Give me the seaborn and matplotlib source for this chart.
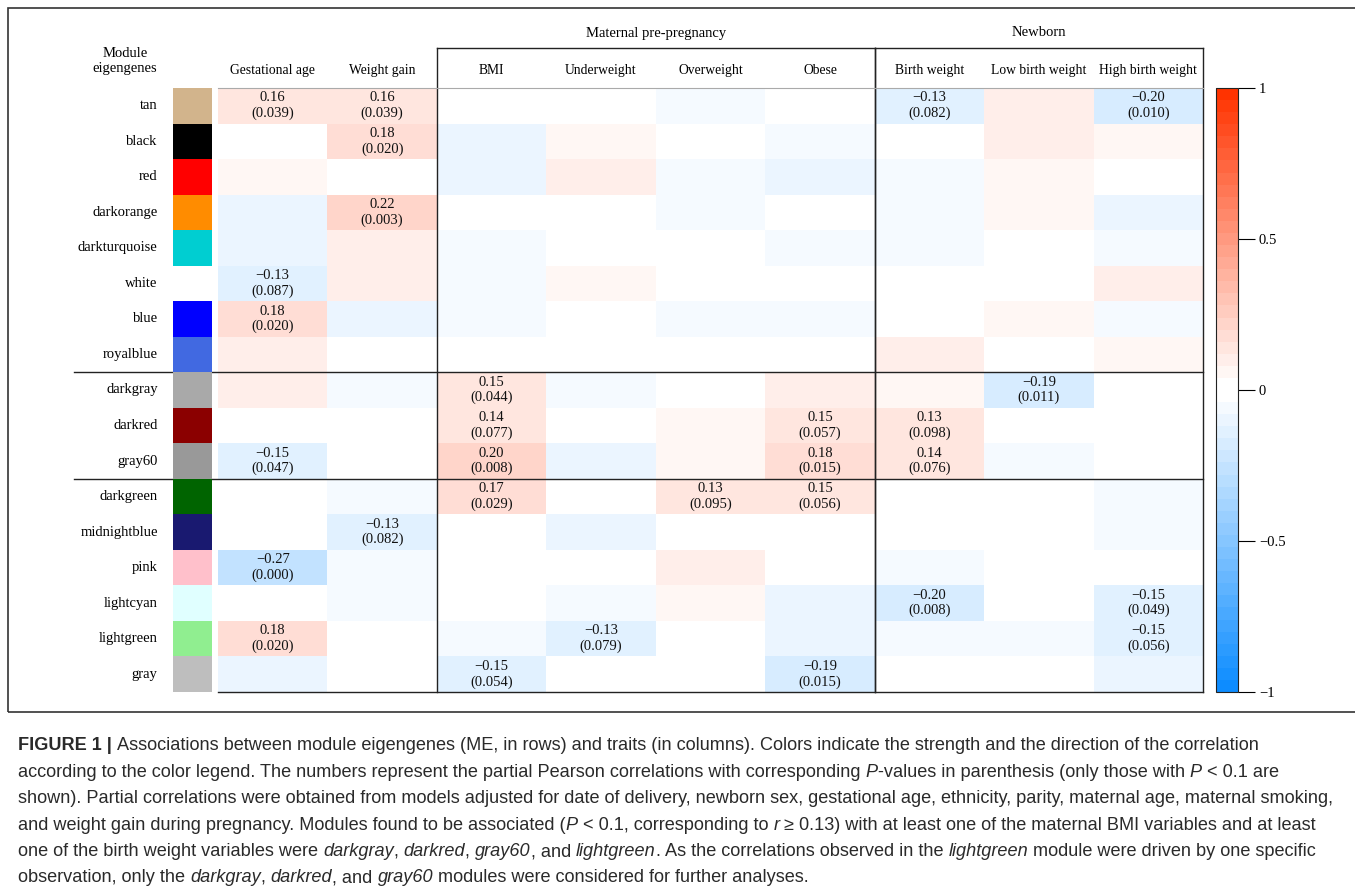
import numpy as np
import matplotlib
matplotlib.use("Agg")
import matplotlib.pyplot as plt
import matplotlib.transforms as mtransforms
from matplotlib.colors import ListedColormap
from matplotlib.patches import Rectangle
import seaborn as sns

# data
modules = ["tan", "black", "red", "darkorange", "darkturquoise", "white", "blue",
           "royalblue", "darkgray", "darkred", "gray60", "darkgreen", "midnightblue",
           "pink", "lightcyan", "lightgreen", "gray"]
module_colors = ["#D2B48C", "#000000", "#FF0000", "#FF8C00", "#00CED1", "#FFFFFF",
                 "#0000FF", "#4169E1", "#A9A9A9", "#8B0000", "#999999", "#006400",
                 "#191970", "#FFC0CB", "#E0FFFF", "#90EE90", "#BEBEBE"]
traits = ["Gestational age", "Weight gain", "BMI", "Underweight", "Overweight",
          "Obese", "Birth weight", "Low birth weight", "High birth weight"]
groups = ["Maternal pre-pregnancy", "Newborn"]
group_spans = [(2, 6), (6, 9)]
module_breaks = [8, 11]

r = np.array([
    [0.16, 0.16, 0.00, 0.00, -0.05, 0.00, -0.13, 0.10, -0.20],
    [0.00, 0.18, -0.09, 0.06, 0.00, -0.05, 0.00, 0.10, 0.06],
    [0.07, 0.00, -0.10, 0.09, -0.05, -0.10, -0.05, 0.06, 0.00],
    [-0.09, 0.22, 0.00, 0.00, -0.05, 0.00, -0.05, 0.06, -0.09],
    [-0.09, 0.08, -0.05, 0.00, 0.00, -0.05, -0.05, 0.00, -0.05],
    [-0.13, 0.08, -0.05, 0.06, 0.00, 0.00, 0.00, 0.00, 0.09],
    [0.18, -0.09, -0.05, 0.00, -0.05, -0.05, 0.00, 0.06, -0.05],
    [0.08, 0.00, 0.00, 0.00, 0.00, 0.00, 0.09, 0.00, 0.06],
    [0.08, -0.05, 0.15, -0.05, 0.00, 0.09, 0.05, -0.19, 0.00],
    [0.00, 0.00, 0.14, 0.00, 0.05, 0.15, 0.13, 0.00, 0.00],
    [-0.15, 0.00, 0.20, -0.09, 0.05, 0.18, 0.14, -0.05, 0.00],
    [0.00, -0.05, 0.17, 0.00, 0.13, 0.15, 0.00, 0.00, -0.05],
    [0.00, -0.13, 0.00, -0.09, 0.00, 0.00, 0.00, 0.00, -0.05],
    [-0.27, -0.05, 0.00, 0.00, 0.09, 0.00, -0.05, 0.00, 0.00],
    [0.00, -0.05, 0.00, -0.05, 0.05, -0.09, -0.20, 0.00, -0.15],
    [0.18, 0.00, -0.05, -0.13, 0.00, -0.09, -0.05, -0.05, -0.15],
    [-0.09, 0.00, -0.15, 0.00, 0.00, -0.19, 0.00, 0.00, -0.09],
])

n = np.nan
p = np.array([
    [0.039, 0.039, n, n, n, n, 0.082, n, 0.010],
    [n, 0.020, n, n, n, n, n, n, n],
    [n, n, n, n, n, n, n, n, n],
    [n, 0.003, n, n, n, n, n, n, n],
    [n, n, n, n, n, n, n, n, n],
    [0.087, n, n, n, n, n, n, n, n],
    [0.020, n, n, n, n, n, n, n, n],
    [n, n, n, n, n, n, n, n, n],
    [n, n, 0.044, n, n, n, n, 0.011, n],
    [n, n, 0.077, n, n, 0.057, 0.098, n, n],
    [0.047, n, 0.008, n, n, 0.015, 0.076, n, n],
    [n, n, 0.029, n, 0.095, 0.056, n, n, n],
    [n, 0.082, n, n, n, n, n, n, n],
    [0.000, n, n, n, n, n, n, n, n],
    [n, n, n, n, n, n, 0.008, n, 0.049],
    [0.020, n, n, 0.079, n, n, n, n, 0.056],
    [n, n, 0.054, n, n, 0.015, n, n, n],
])

cbar_ticks = [-1, -0.5, 0, 0.5, 1]
cbar_labels = ["\u22121", "\u22120.5", "0", "0.5", "1"]

# annotation text: r and p only where shown
labels = np.full(r.shape, "", dtype=object)
for i in range(r.shape[0]):
    for j in range(r.shape[1]):
        if not np.isnan(p[i, j]):
            labels[i, j] = f"{r[i, j]:.2f}\n({p[i, j]:.3f})".replace("-", "\u2212")

# blue - white - red palette, 50 steps
blue_end = np.array([0.05, 0.55, 1.0])
red_end = np.array([1.0, 0.2, 0.0])
steps = np.linspace(0, 1, 25)
pal = [blue_end + (1 - blue_end) * t for t in steps] + [1 + (red_end - 1) * t for t in steps]
cmap = ListedColormap(pal)

W, H = 1355, 891
fig = plt.figure(figsize=(W / 100, H / 100), dpi=100)
serif = "Liberation Serif"


def box(x0, x1, y0, y1):
    return [x0 / W, 1 - y1 / H, (x1 - x0) / W, (y1 - y0) / H]


ax = fig.add_axes(box(218, 1203, 88, 692))
sax = fig.add_axes(box(173, 212, 88, 692))
cax = fig.add_axes(box(1216, 1238, 88, 692))

sns.heatmap(r, ax=ax, cmap=cmap, vmin=-1, vmax=1, annot=labels, fmt="",
            annot_kws={"fontsize": 10.5, "family": serif, "color": "#111111"},
            cbar_ax=cax, xticklabels=traits, yticklabels=False)
ax.xaxis.tick_top()
ax.tick_params(axis="x", length=0, pad=8)
for t in ax.get_xticklabels():
    t.set_rotation(0)
    t.set_family(serif)
    t.set_fontsize(9.8)

sns.heatmap(np.arange(len(modules))[:, None], ax=sax, cmap=ListedColormap(module_colors),
            cbar=False, xticklabels=False, yticklabels=modules)
sax.tick_params(axis="y", length=0, pad=11)
for t in sax.get_yticklabels():
    t.set_rotation(0)
    t.set_family(serif)
    t.set_fontsize(10.5)

cbar = ax.collections[0].colorbar
cbar.set_ticks(cbar_ticks)
cbar.set_ticklabels(cbar_labels)
cbar.ax.tick_params(length=12, width=0.8, labelsize=10.5, pad=3)
for t in cbar.ax.get_yticklabels():
    t.set_family(serif)
cbar.outline.set_visible(True)
cbar.outline.set_edgecolor("#222222")
cbar.outline.set_linewidth(0.8)

# group boxes and titles
lw = 1.0
top_ext = 1 + 40 / 604
xt = ax.get_xaxis_transform()
for (a, b), g in zip(group_spans, groups):
    ax.plot([a, a], [0, top_ext], color="#222222", lw=lw, transform=xt, clip_on=False)
    ax.plot([b, b], [0, top_ext], color="#222222", lw=lw, transform=xt, clip_on=False)
    ax.plot([a, b], [top_ext, top_ext], color="#222222", lw=lw, transform=xt, clip_on=False)
    ax.text((a + b) / 2, 1 + 55 / 604, g, transform=xt, ha="center", va="center",
            family=serif, fontsize=10.5)
ax.plot([0, len(traits)], [1, 1], color="#aaaaaa", lw=0.8, transform=xt, clip_on=False)
ax.plot([0, len(traits)], [0, 0], color="#222222", lw=lw, transform=xt, clip_on=False)

# module cluster separators
bt = mtransforms.blended_transform_factory(fig.transFigure, ax.transData)
x_end = 1203 / W
for k in module_breaks:
    ax.plot([74 / W, x_end], [k, k], color="#222222", lw=lw, transform=bt, clip_on=False)

fig.text(125 / W, 1 - 61 / H, "Module\neigengenes", ha="center", va="center",
         family=serif, fontsize=10.5, linespacing=1.2)

# figure frame
fig.patches.append(Rectangle((8 / W, 1 - 712 / H), 1.0, (712 - 8) / H, fill=False,
                             edgecolor="#333333", lw=1.2, transform=fig.transFigure))

# caption with mixed styles
cap = [
    [("FIGURE 1 | ", "b"), ("Associations between module eigengenes (ME, in rows) and traits (in columns). Colors indicate the strength and the direction of the correlation", "n")],
    [("according to the color legend. The numbers represent the partial Pearson correlations with corresponding ", "n"), ("P", "i"), ("-values in parenthesis (only those with ", "n"), ("P", "i"), (" < 0.1 are", "n")],
    [("shown). Partial correlations were obtained from models adjusted for date of delivery, newborn sex, gestational age, ethnicity, parity, maternal age, maternal smoking,", "n")],
    [("and weight gain during pregnancy. Modules found to be associated (", "n"), ("P", "i"), (" < 0.1, corresponding to ", "n"), ("r", "i"), (" \u2265 0.13) with at least one of the maternal BMI variables and at least", "n")],
    [("one of the birth weight variables were ", "n"), ("darkgray", "i"), (", ", "n"), ("darkred", "i"), (", ", "n"), ("gray60", "i"), (", and ", "n"), ("lightgreen", "i"), (". As the correlations observed in the ", "n"), ("lightgreen", "i"), (" module were driven by one specific", "n")],
    [("observation, only the ", "n"), ("darkgray", "i"), (", ", "n"), ("darkred", "i"), (", and ", "n"), ("gray60", "i"), (" modules were considered for further analyses.", "n")],
]
renderer = fig.canvas.get_renderer()
cap_font = "Liberation Sans"
for li, line in enumerate(cap):
    x = 18 / W
    y = 1 - (746 + 26.4 * li) / H
    for s, st in line:
        kw = {"family": cap_font, "fontsize": 13.1, "color": "#2a2a2a"}
        if st == "b":
            kw["weight"] = "bold"
        if st == "i":
            kw["style"] = "italic"
        t = fig.text(x, y, s, ha="left", va="center", **kw)
        bb = t.get_window_extent(renderer)
        x += bb.width / W

fig.savefig("out.png", dpi=100)
